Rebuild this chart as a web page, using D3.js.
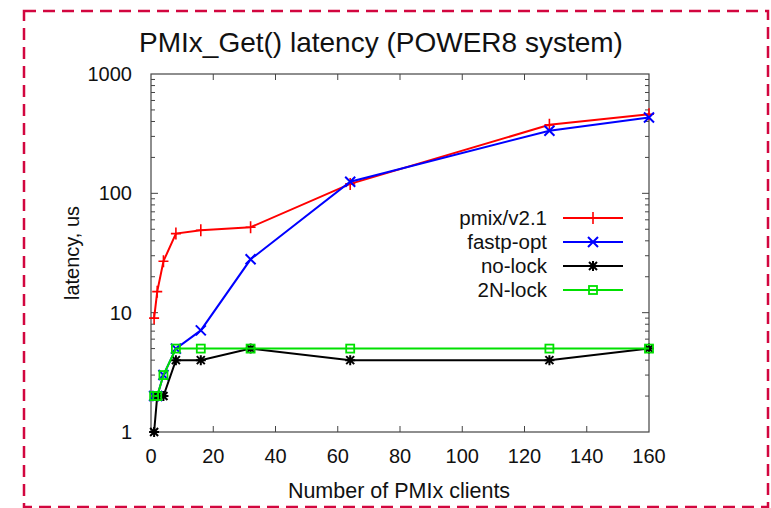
<!DOCTYPE html>
<html>
<head>
<meta charset="utf-8">
<script src="https://cdn.jsdelivr.net/npm/d3@7"></script>
<style>
  body { margin: 0; background: #fff; }
  svg { display: block; font-family: "Liberation Sans", Arial, sans-serif; }
</style>
</head>
<body>
<svg id="chart"></svg>
<script>
// data
const clients = [1, 2, 4, 8, 16, 32, 64, 128, 160];
const pmixV21 = [9, 15, 27, 46, 49, 52, 120, 375, 460];
const fastpOpt = [2, 2, 3, 5, 7.1, 28, 125, 335, 432];
const noLock = [1, 2, 2, 4, 4, 5, 4, 4, 5];
const lock2N = [2, 2, 3, 5, 5, 5, 5, 5, 5];
const xTicks = [0, 20, 40, 60, 80, 100, 120, 140, 160];
const yTicks = [1, 10, 100, 1000];

const W = 771, H = 508;
const svg = d3.select('#chart').attr('width', W).attr('height', H);

// dashed frame round the whole figure
svg.append('rect')
  .attr('x', 24).attr('y', 11)
  .attr('width', 744).attr('height', 496)
  .style('fill', 'none')
  .style('stroke', '#d2063f')
  .style('stroke-width', 2.5)
  .style('stroke-dasharray', '12,7');

const pLeft = 151, pRight = 649, pTop = 74, pBottom = 432;
const x = d3.scaleLinear().domain([0, 160]).range([pLeft, pRight]);
const y = d3.scaleLog().domain([1, 1000]).range([pBottom, pTop]);

// title
svg.append('text')
  .attr('x', 381).attr('y', 52)
  .attr('text-anchor', 'middle')
  .style('font-size', '28px')
  .style('fill', '#111')
  .text('PMIx_Get() latency (POWER8 system)');

// axes, gnuplot style: ticks inward and mirrored
const axisCol = '#444';
const g = svg.append('g');
g.append('rect')
  .attr('x', pLeft).attr('y', pTop)
  .attr('width', pRight - pLeft).attr('height', pBottom - pTop)
  .style('fill', 'none').style('stroke', axisCol).style('stroke-width', 1.2);

xTicks.forEach((t) => {
  if (t === 0 || t === 160) return;
  g.append('line').attr('x1', x(t)).attr('x2', x(t)).attr('y1', pBottom).attr('y2', pBottom - 6)
    .style('stroke', axisCol);
  g.append('line').attr('x1', x(t)).attr('x2', x(t)).attr('y1', pTop).attr('y2', pTop + 6)
    .style('stroke', axisCol);
});
xTicks.forEach((t) => {
  g.append('text')
    .attr('x', x(t)).attr('y', pBottom + 31)
    .attr('text-anchor', 'middle')
    .style('font-size', '20px').style('fill', '#111')
    .text(t);
});

// log ticks: majors and minors on both sides
for (let dec = 1; dec < 1000; dec *= 10) {
  for (let m = 1; m < 10; m++) {
    const v = dec * m;
    const len = m === 1 ? 7 : 4;
    if (v === 1) continue;
    [[pLeft, len], [pRight, -len]].forEach(([x0, d]) => {
      g.append('line').attr('x1', x0).attr('x2', x0 + d).attr('y1', y(v)).attr('y2', y(v))
        .style('stroke', axisCol);
    });
  }
}
yTicks.forEach((t) => {
  g.append('text')
    .attr('x', pLeft - 19).attr('y', y(t) + 7)
    .attr('text-anchor', 'end')
    .style('font-size', '20px').style('fill', '#111')
    .text(t);
});

// axis labels
svg.append('text')
  .attr('x', 399).attr('y', 498)
  .attr('text-anchor', 'middle')
  .style('font-size', '21.5px').style('fill', '#111')
  .text('Number of PMIx clients');
svg.append('text')
  .attr('transform', 'translate(79, 253) rotate(-90)')
  .attr('text-anchor', 'middle')
  .style('font-size', '20px').style('fill', '#111')
  .text('latency, us');

// markers
function drawMarker(sel, type, col) {
  const s = 5;
  if (type === 'plus') {
    sel.append('path').attr('d', `M${-s},0H${s}M0,${-s - 1}V${s + 1}`)
      .style('stroke', col).style('stroke-width', 1.6).style('fill', 'none');
  } else if (type === 'cross') {
    sel.append('path').attr('d', `M${-s},${-s}L${s},${s}M${-s},${s}L${s},${-s}`)
      .style('stroke', col).style('stroke-width', 2).style('fill', 'none');
  } else if (type === 'star') {
    sel.append('path').attr('d', `M${-s},0H${s}M0,${-s}V${s}M-4,-4L4,4M-4,4L4,-4`)
      .style('stroke', col).style('stroke-width', 2).style('fill', 'none');
  } else {
    sel.append('rect').attr('x', -4).attr('y', -4).attr('width', 8).attr('height', 8)
      .style('stroke', col).style('stroke-width', 1.8).style('fill', 'none');
  }
}

const series = [
  { name: 'pmix/v2.1', vals: pmixV21, col: '#ff0000', mk: 'plus' },
  { name: 'fastp-opt', vals: fastpOpt, col: '#0000ff', mk: 'cross' },
  { name: 'no-lock', vals: noLock, col: '#000000', mk: 'star' },
  { name: '2N-lock', vals: lock2N, col: '#00e000', mk: 'square' },
];

const line = d3.line().x((d) => x(d[0])).y((d) => y(d[1]));
const plot = svg.append('g');
series.forEach((s) => {
  const pts = clients.map((c, i) => [c, s.vals[i]]);
  plot.append('path').attr('d', line(pts))
    .style('fill', 'none').style('stroke', s.col).style('stroke-width', 2);
  pts.forEach((p) => {
    drawMarker(plot.append('g').attr('transform', `translate(${x(p[0])},${y(p[1])})`), s.mk, s.col);
  });
});

// legend
const leg = svg.append('g');
series.forEach((s, i) => {
  const ly = 218 + i * 24;
  leg.append('text')
    .attr('x', 547).attr('y', ly + 7)
    .attr('text-anchor', 'end')
    .style('font-size', '20.5px').style('fill', '#111')
    .text(s.name);
  leg.append('line').attr('x1', 563).attr('x2', 623).attr('y1', ly).attr('y2', ly)
    .style('stroke', s.col).style('stroke-width', 2);
  drawMarker(leg.append('g').attr('transform', `translate(593,${ly})`), s.mk, s.col);
});
</script>
</body>
</html>
